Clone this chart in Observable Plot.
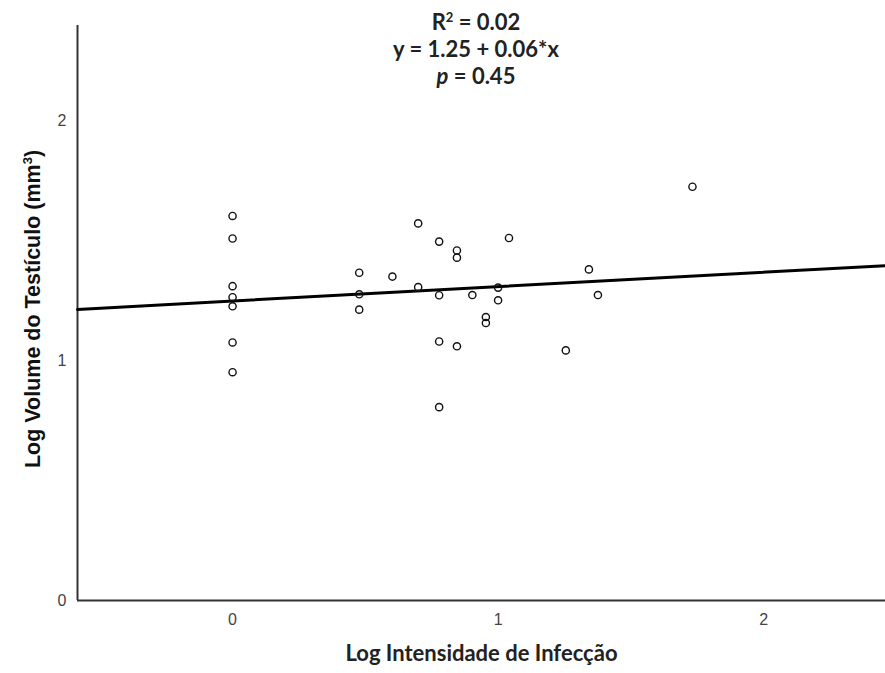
<!DOCTYPE html>
<html><head><meta charset="utf-8">
<script src="https://cdn.jsdelivr.net/npm/d3@7"></script>
<script src="https://cdn.jsdelivr.net/npm/@observablehq/plot@0.6"></script>
<style>
body{margin:0;background:#fff}
#chart svg{display:block}
</style>
</head><body><div id="chart"></div>
<script>
// Data
const logIntensity = [
  0, 0, 0, 0, 0, 0, 0,
  0.477, 0.477, 0.477,
  0.602,
  0.699, 0.699,
  0.778, 0.778, 0.778, 0.778,
  0.845, 0.845, 0.845,
  0.903,
  0.954, 0.954,
  1.0, 1.0,
  1.041,
  1.255,
  1.342,
  1.376,
  1.732
];
const logVolume = [
  1.605, 1.511, 1.312, 1.266, 1.228, 1.077, 0.953,
  1.368, 1.278, 1.214,
  1.352,
  1.574, 1.308,
  1.498, 1.274, 1.081, 0.807,
  1.461, 1.431, 1.061,
  1.275,
  1.183, 1.158,
  1.306, 1.253,
  1.513,
  1.044,
  1.382,
  1.275,
  1.727
];
const xTicks = [0, 1, 2];
const yTicks = [0, 1, 2];
const xDomain = [-0.584, 2.459];
const yDomain = [0, 2.40];
const intercept = 1.25;
const slope = 0.06;
const xTitle = "Log Intensidade de Infecção";
const yTitle = ["Log Volume do Testículo (mm", "3", ")"];
const statR2 = ["R", "2", " = 0.02"];
const statEq = "y = 1.25 + 0.06*x";
const statP = ["p", " = 0.45"];

const points = logIntensity.map((x, i) => ({x, y: logVolume[i]}));
const fitLine = xDomain.map(x => ({x, y: intercept + slope * x}));

const tickFont = "'Liberation Sans Narrow', 'Liberation Sans', Arial, sans-serif";
const titleFont = "Lato, 'Open Sans', sans-serif";
const yTitleFont = "'Liberation Sans', Arial, sans-serif";

const chart = Plot.plot({
  width: 885,
  height: 673,
  marginLeft: 77,
  marginRight: 0,
  marginTop: 25,
  marginBottom: 73,
  style: {background: "#fff", fontFamily: tickFont},
  x: {domain: xDomain, axis: null},
  y: {domain: yDomain, axis: null},
  marks: [
    Plot.axisX(xTicks, {tickSize: 0, tickPadding: 13, fontSize: 16, fill: "#444", label: null, tickFormat: d3.format("d")}),
    Plot.axisY(yTicks, {tickSize: 0, tickPadding: 11, fontSize: 16, fill: "#444", label: null, tickFormat: d3.format("d")}),
    Plot.ruleX([xDomain[0]], {stroke: "#333", strokeWidth: 2}),
    Plot.ruleY([0], {stroke: "#333", strokeWidth: 2}),
    Plot.line(fitLine, {x: "x", y: "y", stroke: "#000", strokeWidth: 3}),
    Plot.dot(points, {x: "x", y: "y", r: 3.6, stroke: "#111", strokeWidth: 1.4, fill: "none"}),
    Plot.text([xTitle], {frameAnchor: "bottom", dx: 0, dy: 60, fontSize: 22, fontWeight: 700, fill: "#222", fontFamily: titleFont})
  ]
});

const svg = d3.select(chart);

// y-axis title with superscript
const yt = svg.append("text")
  .attr("transform", "translate(40,309) rotate(-90)")
  .style("font-family", yTitleFont)
  .style("font-weight", "700")
  .style("font-size", "21.5px")
  .attr("fill", "#111")
  .attr("text-anchor", "middle");
yt.append("tspan").text(yTitle[0]);
yt.append("tspan").attr("dy", -8).style("font-size", "13px").text(yTitle[1]);
yt.append("tspan").attr("dy", 8).text(yTitle[2]);

const cx = 476;
const g = svg.append("g")
  .style("font-family", titleFont)
  .style("font-weight", "700")
  .style("font-size", "22px")
  .attr("fill", "#222")
  .attr("text-anchor", "middle");
const t1 = g.append("text").attr("x", cx).attr("y", 30);
t1.append("tspan").text(statR2[0]);
t1.append("tspan").attr("dy", -8).style("font-size", "13px").text(statR2[1]);
t1.append("tspan").attr("dy", 8).text(statR2[2]);
g.append("text").attr("x", cx).attr("y", 57).text(statEq);
const t3 = g.append("text").attr("x", cx).attr("y", 84);
t3.append("tspan").style("font-style", "italic").text(statP[0]);
t3.append("tspan").text(statP[1]);

document.getElementById("chart").appendChild(chart);
</script>
</body></html>
